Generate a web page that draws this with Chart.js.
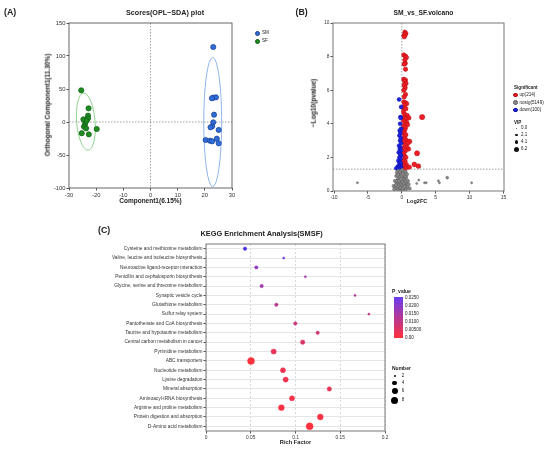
<!DOCTYPE html>
<html>
<head>
<meta charset="utf-8">
<title>SM vs SF</title>
<script src="https://cdn.jsdelivr.net/npm/chart.js@4.4.1/dist/chart.umd.min.js"></script>
<style>
  html, body { margin: 0; padding: 0; background: #fff; }
  body { position: relative; width: 550px; height: 454px; overflow: hidden;
         font-family: "Liberation Sans", Arial, sans-serif; color: #222; }
  canvas { position: absolute; }
  .t { position: absolute; white-space: nowrap; line-height: 1; }
  .d { position: absolute; border-radius: 50%; box-sizing: border-box; }
</style>
</head>
<body>
<canvas id="scores" width="290" height="215" style="left:0;top:0"></canvas>
<canvas id="volcano" width="260" height="215" style="left:290px;top:0"></canvas>
<canvas id="kegg" width="550" height="239" style="left:0;top:215px"></canvas>
<script>
// ---------- (A) OPLS-DA scores ----------
var smX = [23.1, 23.1, 24.1, 22.6, 23.4, 23.1, 22.7, 22.1, 25.1, 20.3, 21.9, 22.7, 24.4, 25.1];
var smY = [113.6, 36.9, 37.4, 36, 11.1, -0.5, -6.6, -8.1, -12, -27.3, -28.3, -29.3, -25.3, -32.3];
var sfX = [-25.5, -22.8, -23.0, -23.0, -24.7, -24.1, -24.5, -23.7, -19.8, -25.3, -22.7, -23.5];
var sfY = [48, 20.7, 9.6, 5.6, 4, -3, -7, -9.6, -10.6, -17, -18.7, 2];
// confidence ellipses: centre x, centre y, half width, half height (data units)
var smEllipse = [22.9, 0, 3.3, 98];
var sfEllipse = [-23.8, 0.5, 3.4, 43.4];
var aXTicks = [-30, -20, -10, 0, 10, 20, 30];
var aYTicks = [-100, -50, 0, 50, 100, 150];

// ---------- (B) volcano: [log2FC, -log10(p), VIP] ----------
var upPts = [
  [0.45,9.45,4.6],[0.6,9.38,4.6],[0.3,9.25,4.6],[0.5,9.3,4.6],[0.38,9.18,4.6],
  [0.3,8.1,4.6],[0.55,8.02,4.6],[0.68,7.95,4.6],[0.45,7.8,4.6],[0.52,7.6,4.6],[0.35,7.55,4.6],[0.55,7.25,4.6],
  [0.3,6.65,4.6],[0.55,6.6,4.6],[0.42,6.52,4.6],[0.62,6.4,4.6],[0.35,6.3,4.6],[0.5,6.15,4.6],[0.3,6.0,4.6],
  [0.55,5.75,4.6],[0.35,5.6,4.6],
  [0.3,5.3,4.6],[0.55,5.25,4.6],[0.72,5.2,4.6],[0.42,5.1,4.6],[0.2,4.95,4.6],[0.6,4.9,4.6],[0.25,4.7,4.6],
  [0.45,4.55,4.6],[0.8,4.5,4.6],[0.35,4.4,4.6],[1.05,4.35,4.6],[0.6,4.3,4.6],[0.25,4.2,4.6],[0.72,4.1,4.6],
  [0.45,4.0,4.6],[0.85,3.95,4.6],[0.3,3.85,4.6],[0.55,3.75,4.6],[3.0,4.4,5.8],
  [0.4,3.6,4.6],[0.25,3.45,4.6],[0.6,3.35,4.6],[0.35,3.2,4.6],[0.5,3.1,4.6],[0.72,3.0,4.6],[1.15,2.95,5],
  [0.9,2.85,5],[0.25,2.95,4.6],[0.45,2.75,4.6],[0.75,2.6,4.6],[0.3,2.55,4.6],[1.0,2.5,4.6],[0.55,2.4,4.6],
  [0.25,2.25,4.6],[2.25,2.25,5.6],[0.4,2.1,4.6],[0.6,2.0,4.6],[0.3,1.85,4.6],[0.5,1.75,4.6],[0.2,1.65,4.6],
  [1.85,1.58,5.2],[0.7,1.55,4.6],[2.45,1.48,5],[0.35,1.5,4.6],[1.1,1.42,4.6],[0.25,1.38,4.6],[0.55,1.35,4.6]
];
var downPts = [
  [-0.4,5.45,4],[-0.1,5.0,4],[-0.2,4.4,4],[-0.15,4.35,4],[-0.25,4.0,4],[-0.1,3.7,4],[-0.3,3.6,4],
  [-0.2,3.45,4],[-0.35,3.3,4],[-0.15,3.15,4],[-0.25,3.0,4],[-0.1,2.85,4],[-0.4,2.7,4],[-0.2,2.6,4],
  [-0.3,2.5,4],[-0.15,2.4,4],[-0.45,2.3,4],[-0.25,2.2,4],[-0.1,2.1,4],[-0.35,2.0,4],[-0.2,1.9,4],
  [-0.5,1.8,4],[-0.3,1.7,4],[-0.15,1.65,4],[-0.4,1.55,4],[-0.25,1.5,4],[-0.6,1.45,4],[-0.1,1.42,4],
  [-0.35,1.38,4],[-0.8,1.35,4],[-0.2,1.33,4],[-0.5,1.32,4]
];
var nosigPts = [
  [-1.2,0.3,3.2],[-1.0,0.6,3.2],[-0.9,0.2,3.2],[-0.8,0.9,3.2],[-0.75,0.45,3.2],[-0.7,1.1,3.2],[-0.6,0.15,3.2],
  [-0.55,0.7,3.2],[-0.5,1.2,3.2],[-0.45,0.35,3.2],[-0.4,0.95,3.2],[-0.35,0.55,3.2],[-0.3,0.1,3.2],[-0.25,1.15,3.2],
  [-0.2,0.75,3.2],[-0.15,0.4,3.2],[-0.1,1.0,3.2],[-0.05,0.25,3.2],[0,0.65,3.2],[0.05,1.25,3.2],[0.1,0.05,3.2],
  [0.15,0.85,3.2],[0.2,0.5,3.2],[0.25,1.1,3.2],[0.3,0.2,3.2],[0.35,0.7,3.2],[0.4,0.95,3.2],[0.45,0.35,3.2],
  [0.5,0.6,3.2],[0.55,1.15,3.2],[0.6,0.1,3.2],[0.65,0.8,3.2],[0.7,0.45,3.2],[0.8,0.25,3.2],[0.9,0.6,3.2],
  [1.0,0.4,3.2],[1.15,0.15,3.2],[-0.65,0.6,3.2],[-0.85,0.35,3.2],[-0.3,0.85,3.2],[0.1,0.3,3.2],[-0.05,0.9,3.2],
  [0.3,0.45,3.2],[-0.5,0.05,3.2],[0.5,0.9,3.2],[-0.2,0.2,3.2],[0.2,1.0,3.2],[-0.4,0.6,3.2],[0.05,0.55,3.2],
  [-0.1,0.7,3.2],[0.15,0.15,3.2],[0.4,0.25,3.2],[-0.6,0.95,3.2],[0.75,1.0,3.2],[-1.1,0.1,3.2],
  [-6.55,0.49,1.4],[2.2,0.45,1.4],[2.5,0.65,1.4],[3.35,0.49,1.4],[3.6,0.49,1.4],[5.4,0.61,1.4],
  [5.55,0.49,1.4],[6.7,0.79,2.4],[10.3,0.49,1.4]
];
var bXTicks = [-10, -5, 0, 5, 10, 15];
var bYTicks = [0, 2, 4, 6, 8, 10];
var pCut = 1.3;

// ---------- (C) KEGG enrichment ----------
var pathways = [
  'Cysteine and methionine metabolism', 'Valine, leucine and isoleucine biosynthesis',
  'Neuroactive ligand-receptor interaction', 'Penicillin and cephalosporin biosynthesis',
  'Glycine, serine and threonine metabolism', 'Synaptic vesicle cycle', 'Glutathione metabolism',
  'Sulfur relay system', 'Pantothenate and CoA biosynthesis', 'Taurine and hypotaurine metabolism',
  'Central carbon metabolism in cancer', 'Pyrimidine metabolism', 'ABC transporters',
  'Nucleotide metabolism', 'Lysine degradation', 'Mineral absorption', 'Aminoacyl-tRNA biosynthesis',
  'Arginine and proline metabolism', 'Protein digestion and absorption', 'D-Amino acid metabolism'
];
var richFactor = [0.0436, 0.0868, 0.0562, 0.111, 0.0622, 0.1665, 0.0786, 0.182, 0.0998, 0.1248,
                  0.108, 0.0756, 0.0503, 0.086, 0.089, 0.1378, 0.0961, 0.0842, 0.1277, 0.1158];
var geneNumber = [3, 2, 3, 2, 3, 2, 3, 2, 3, 3, 4, 5, 8, 5, 5, 4, 5, 6, 6, 8];
var pValue = [0.029, 0.024, 0.019, 0.016, 0.016, 0.014, 0.012, 0.011, 0.009, 0.008,
              0.006, 0.004, 0.0005, 0.003, 0.003, 0.004, 0.002, 0.001, 0.001, 0.0003];
var cXTicks = [0, 0.05, 0.1, 0.15, 0.2];
var pLegend = ['0.0250', '0.0200', '0.0150', '0.0100', '0.00500', '0.00'];
var numLegend = [2, 4, 6, 8];
var vipLegend = [0.0, 2.1, 4.1, 6.2];

Chart.defaults.font.family = '"Liberation Sans", Arial, sans-serif';
Chart.defaults.color = '#333';
Chart.defaults.animation = false;
Chart.defaults.plugins.legend.display = false;
Chart.defaults.plugins.tooltip.enabled = false;

function txt(x, y, s, o) {
  o = o || {};
  var d = document.createElement('div');
  d.className = 't';
  d.textContent = s;
  d.style.left = x + 'px';
  d.style.top = y + 'px';
  d.style.fontSize = (o.size || 5) + 'px';
  if (o.bold) d.style.fontWeight = 'bold';
  var tx = o.align === 'left' ? '0' : '-50%';
  d.style.transform = 'translate(' + tx + ',-50%)' + (o.rot ? ' rotate(-90deg)' : '');
  document.body.appendChild(d);
}
function dot(x, y, r, fill, stroke) {
  var d = document.createElement('div');
  d.className = 'd';
  d.style.left = (x - r) + 'px';
  d.style.top = (y - r) + 'px';
  d.style.width = d.style.height = (2 * r) + 'px';
  d.style.background = fill;
  if (stroke) d.style.border = '0.6px solid ' + stroke;
  document.body.appendChild(d);
}

function axis(pos, min, max, ticks, size, fs) {
  return {
    type: 'linear', position: pos, min: min, max: max,
    afterBuildTicks: function (s) { s.ticks = ticks.map(function (v) { return { value: v }; }); },
    afterFit: function (s) { if (pos === 'left') s.width = size; else s.height = size; },
    grid: { drawOnChartArea: false, tickLength: 2.5, color: '#555' },
    border: { display: false },
    ticks: { font: { size: fs }, padding: 1, color: '#333',
             callback: function (v) { return String(v); } }
  };
}

var frame = {
  id: 'frame',
  afterDatasetsDraw: function (chart, args, o) {
    var a = chart.chartArea, c = chart.ctx;
    c.save();
    c.strokeStyle = o.color || '#666';
    c.lineWidth = 1;
    c.strokeRect(a.left, a.top, a.right - a.left, a.bottom - a.top);
    c.restore();
  }
};
var refLines = {
  id: 'refLines',
  beforeDatasetsDraw: function (chart, args, o) {
    var a = chart.chartArea, c = chart.ctx, sx = chart.scales.x, sy = chart.scales.y;
    c.save();
    c.strokeStyle = o.color;
    c.lineWidth = o.width;
    c.setLineDash(o.dash);
    (o.xs || []).forEach(function (v) {
      var p = sx.getPixelForValue(v);
      c.beginPath(); c.moveTo(p, a.top); c.lineTo(p, a.bottom); c.stroke();
    });
    (o.ys || []).forEach(function (v) {
      var p = sy.getPixelForValue(v);
      c.beginPath(); c.moveTo(a.left, p); c.lineTo(a.right, p); c.stroke();
    });
    c.restore();
  }
};
var ellipses = {
  id: 'ellipses',
  beforeDatasetsDraw: function (chart, args, o) {
    var c = chart.ctx, sx = chart.scales.x, sy = chart.scales.y;
    o.items.forEach(function (e) {
      var cx = sx.getPixelForValue(e.p[0]), cy = sy.getPixelForValue(e.p[1]);
      var rx = Math.abs(sx.getPixelForValue(e.p[0] + e.p[2]) - cx);
      var ry = Math.abs(sy.getPixelForValue(e.p[1] + e.p[3]) - cy);
      c.save();
      c.strokeStyle = e.color;
      c.lineWidth = 1;
      c.beginPath();
      c.ellipse(cx, cy, rx, ry, e.tilt, 0, Math.PI * 2);
      c.stroke();
      c.restore();
    });
  }
};

function pairs(xs, ys) { return xs.map(function (x, i) { return { x: x, y: ys[i] }; }); }

// ---- A ----
new Chart(document.getElementById('scores'), {
  type: 'scatter',
  data: {
    datasets: [
      { label: 'SM', data: pairs(smX, smY), backgroundColor: '#2f6cd6', borderColor: '#1a3f95',
        borderWidth: 0.7, pointRadius: 2.6 },
      { label: 'SF', data: pairs(sfX, sfY), backgroundColor: '#1f8c22', borderColor: '#0c5a0e',
        borderWidth: 0.7, pointRadius: 2.6 }
    ]
  },
  options: {
    responsive: false,
    layout: { padding: { left: 0, top: 23, right: 58, bottom: 0 } },
    scales: { x: axis('bottom', -30, 30, aXTicks, 27, 5.8), y: axis('left', -100, 150, aYTicks, 69, 5.8) },
    plugins: {
      frame: { color: '#666' },
      refLines: { xs: [0], ys: [0], color: '#888', width: 0.8, dash: [1.5, 1.5] },
      ellipses: { items: [
        { p: smEllipse, color: '#8fb6ea', tilt: 0 },
        { p: sfEllipse, color: '#8fd28f', tilt: -0.08 }
      ] }
    }
  },
  plugins: [refLines, ellipses, frame]
});

// ---- B ----
function vipR(v) { return 0.5 + v * 0.37; }
function vpts(arr) { return arr.map(function (p) { return { x: p[0], y: p[1], vip: p[2] }; }); }
function radiusByVip(ctx) { return ctx.raw ? vipR(ctx.raw.vip) : 2; }
new Chart(document.getElementById('volcano'), {
  type: 'scatter',
  data: {
    datasets: [
      { label: 'nosig(5149)', data: vpts(nosigPts), backgroundColor: '#8a8a8a', borderColor: '#5a5a5a',
        borderWidth: 0.5, pointRadius: radiusByVip },
      { label: 'down(100)', data: vpts(downPts), backgroundColor: '#1f24e6', borderColor: '#0d0f9e',
        borderWidth: 0.5, pointRadius: radiusByVip },
      { label: 'up(214)', data: vpts(upPts), backgroundColor: '#ee1c24', borderColor: '#b01015',
        borderWidth: 0.5, pointRadius: radiusByVip }
    ]
  },
  options: {
    responsive: false,
    layout: { padding: { left: 0, top: 23, right: 46, bottom: 0 } },
    scales: { x: axis('bottom', -10.15, 15.08, bXTicks, 24, 5), y: axis('left', 0, 10, bYTicks, 43, 4.8) },
    plugins: {
      frame: { color: '#777' },
      refLines: { xs: [0], ys: [pCut], color: '#888', width: 0.8, dash: [1.5, 1.5] }
    }
  },
  plugins: [refLines, frame]
});

// ---- C ----
function numR(n) { return Math.sqrt(Math.max(1.84 * n - 2.47, 0.8)); }
function pColor(p) {
  var stops = [[0, [255, 50, 60]], [0.026, [105, 60, 240]], [0.031, [45, 28, 222]]];
  if (p <= stops[0][0]) return 'rgb(' + stops[0][1].join(',') + ')';
  for (var i = 1; i < stops.length; i++) {
    if (p <= stops[i][0] || i === stops.length - 1) {
      var a = stops[i - 1], b = stops[i];
      var t = Math.min(1, (p - a[0]) / (b[0] - a[0]));
      var c = a[1].map(function (v, k) { return Math.round(v + (b[1][k] - v) * t); });
      return 'rgb(' + c.join(',') + ')';
    }
  }
}
new Chart(document.getElementById('kegg'), {
  type: 'scatter',
  data: {
    labels: pathways,
    datasets: [{
      data: pathways.map(function (p, i) { return { x: richFactor[i], y: p }; }),
      pointRadius: function (ctx) { return numR(geneNumber[ctx.dataIndex]); },
      backgroundColor: function (ctx) { return pColor(pValue[ctx.dataIndex]); },
      borderColor: function (ctx) { return pColor(pValue[ctx.dataIndex]); },
      borderWidth: 0.4
    }]
  },
  options: {
    responsive: false,
    layout: { padding: { left: 0, top: 29, right: 165, bottom: 0 } },
    scales: {
      x: {
        type: 'linear', min: 0, max: 0.2,
        afterBuildTicks: function (s) { s.ticks = cXTicks.map(function (v) { return { value: v }; }); },
        afterFit: function (s) { s.height = 23; },
        grid: { drawOnChartArea: true, color: '#d8d8d8', tickColor: '#555', tickLength: 2.5 },
        border: { display: false, dash: [2, 2] },
        ticks: { font: { size: 4.8 }, padding: 1, color: '#333', callback: function (v) { return String(v); } }
      },
      y: {
        type: 'category', labels: pathways, offset: true, position: 'left',
        afterFit: function (s) { s.width = 206; },
        grid: { offset: false, color: '#e6e6e6', tickColor: '#555', tickLength: 2.5 },
        border: { display: false },
        ticks: { font: { size: 4.8 }, padding: 1, color: '#333', autoSkip: false }
      }
    },
    plugins: { frame: { color: '#777' } }
  },
  plugins: [frame]
});

// ---- titles, axis titles, legends ----
txt(4, 12, '(A)', { size: 8.8, bold: true, align: 'left' });
txt(165, 13, 'Scores(OPL\u2212SDA) plot', { size: 7.2, bold: true });
txt(150.5, 201, 'Component1(6.15%)', { size: 6.5, bold: true });
txt(48, 105, 'Orthogonal Component1(11.30%)', { size: 6.5, bold: true, rot: true });
dot(257.3, 33.3, 2.5, '#2f6cd6', '#1a3f95'); txt(262, 33.3, 'SM', { size: 4.6, align: 'left' });
dot(257.3, 41.3, 2.5, '#1f8c22', '#0c5a0e'); txt(262, 41.3, 'SF', { size: 4.6, align: 'left' });

txt(295.5, 12, '(B)', { size: 8.8, bold: true, align: 'left' });
txt(423.5, 13, 'SM_vs_SF.volcano', { size: 6.7, bold: true });
txt(417, 202, 'Log2FC', { size: 5.5, bold: true });
txt(313.5, 103, '\u2212Log10(pvalue)', { size: 6.6, bold: true, rot: true });
txt(514, 87.7, 'Significant', { size: 4.6, bold: true, align: 'left' });
var sigLegend = [['up(214)', '#ee1c24', '#b01015'], ['nosig(5149)', '#8a8a8a', '#5a5a5a'], ['down(100)', '#1f24e6', '#0d0f9e']];
sigLegend.forEach(function (s, i) {
  var y = 95 + i * 7.5;
  dot(515.7, y, 2.4, s[1], s[2]);
  txt(519.5, y, s[0], { size: 4.6, align: 'left' });
});
txt(514, 122.7, 'VIP', { size: 4.6, bold: true, align: 'left' });
vipLegend.forEach(function (v, i) {
  var y = 128 + i * 7.1;
  dot(516.5, y, Math.max(vipR(v) * 0.9, 0.4), '#111');
  txt(521, y, v.toFixed(1), { size: 4.5, align: 'left' });
});

txt(98, 230, '(C)', { size: 8.8, bold: true, align: 'left' });
txt(200.5, 234, 'KEGG Enrichment Analysis(SMSF)', { size: 7.4, bold: true, align: 'left' });
txt(295.5, 443, 'Rich Factor', { size: 5.7, bold: true });
txt(392, 291.3, 'P_value', { size: 5, bold: true, align: 'left' });
var bar = document.createElement('div');
bar.style.cssText = 'position:absolute;left:394px;top:296.7px;width:8.7px;height:41.6px;' +
  'background:linear-gradient(to bottom,' + pColor(0.026) + ',' + pColor(0) + ')';
document.body.appendChild(bar);
pLegend.forEach(function (s, i) { txt(405, 298.3 + i * 8, s, { size: 4.5, align: 'left' }); });
txt(392, 367.7, 'Number', { size: 5, bold: true, align: 'left' });
numLegend.forEach(function (n, i) {
  var y = [375.7, 382.9, 390.9, 400.3][i];
  dot(394.6, y, numR(n), '#000');
  txt(401.7, y, String(n), { size: 4.5, align: 'left' });
});
</script>
</body>
</html>
